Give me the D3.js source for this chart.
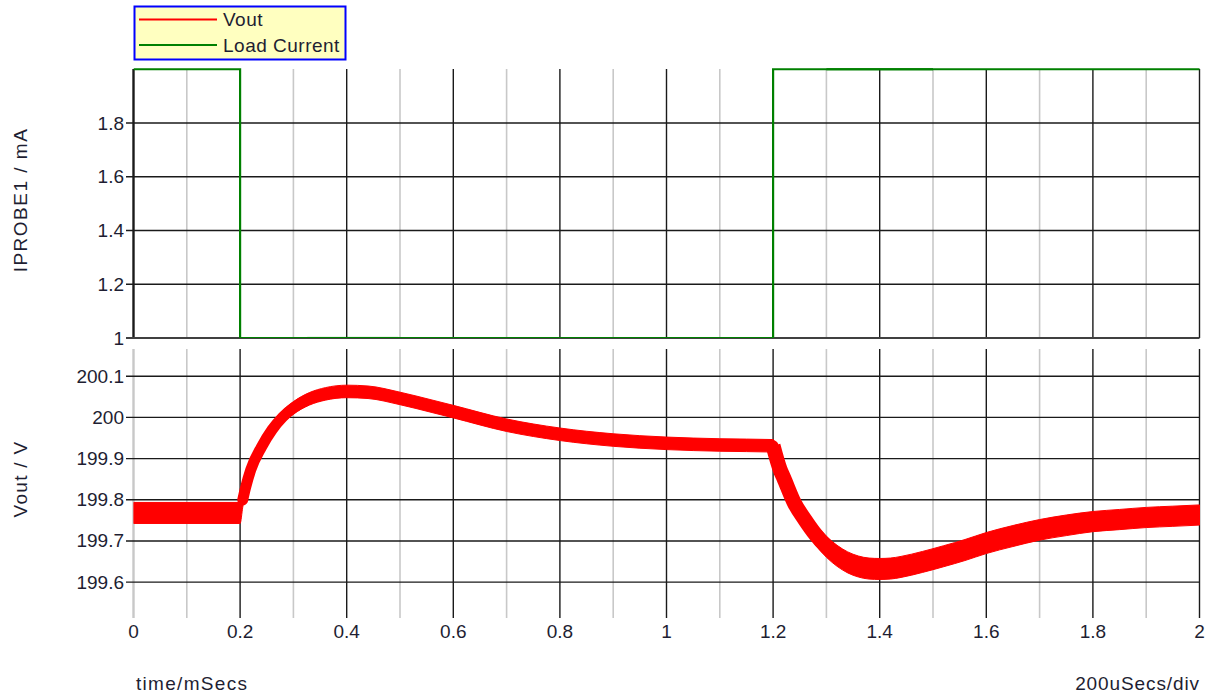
<!DOCTYPE html>
<html><head><meta charset="utf-8">
<script src="https://cdn.jsdelivr.net/npm/d3@7/dist/d3.min.js"></script>
<style>
body{margin:0;background:#fff}
svg{display:block}
text{font-family:"Liberation Sans",Arial,sans-serif;font-size:19px;fill:#1e1e32}
</style>
</head><body>
<svg id="chart" width="1210" height="700"></svg>
<script>
// ---- data ----
const xTickValues = [0, 0.2, 0.4, 0.6, 0.8, 1, 1.2, 1.4, 1.6, 1.8, 2];
const xMinorValues = [0.1, 0.3, 0.5, 0.7, 0.9, 1.1, 1.3, 1.5, 1.7, 1.9];
const currentTicks = [1, 1.2, 1.4, 1.6, 1.8];
const voltTicks = [199.6, 199.7, 199.8, 199.9, 200, 200.1];

// Load current (mA) step waveform
const loadTime = [0, 0.2, 0.2, 1.2, 1.2, 2];
const loadCurrent = [2, 2, 1, 1, 2, 2];
// small ripple segments visible on the current trace
const loadRippleStart = [0.326, 1.3];
const loadRippleEnd = [0.497, 1.5];
const loadRippleLevel = [1, 2];
const loadRippleAmp = [0.004, 0.004];

// Vout (V): centre of ripple band and half peak-to-peak ripple
const voutTime = [0, 0.2, 0.205, 0.21, 0.22, 0.24, 0.26, 0.28, 0.30, 0.33, 0.36, 0.40, 0.44, 0.50, 0.56, 0.60, 0.70, 0.80, 0.90, 1.00, 1.10, 1.20,
  1.213, 1.22, 1.24, 1.26, 1.28, 1.30, 1.32, 1.34, 1.36, 1.38, 1.40, 1.42, 1.44, 1.48, 1.52, 1.56, 1.60, 1.65, 1.70, 1.75, 1.80, 1.85, 1.90, 1.95, 2.0];
const voutCenter = [199.768, 199.768, 199.800, 199.828, 199.873, 199.928, 199.970, 200.001, 200.023, 200.045, 200.057, 200.063, 200.061, 200.046, 200.027, 200.014, 199.981, 199.959, 199.945, 199.937, 199.933, 199.931,
  199.874, 199.853, 199.792, 199.751, 199.715, 199.686, 199.664, 199.648, 199.638, 199.633, 199.632, 199.633, 199.637, 199.649, 199.663, 199.678, 199.695, 199.712, 199.727, 199.738, 199.747, 199.752, 199.757, 199.760, 199.763];
const voutRipple = [0.0255, 0.0255, 0.018, 0.0152, 0.0152, 0.0152, 0.0152, 0.0152, 0.0152, 0.0152, 0.0152, 0.0152, 0.0152, 0.0152, 0.0152, 0.0152, 0.0152, 0.0152, 0.0152, 0.0152, 0.0152, 0.0152,
  0.020, 0.023, 0.0255, 0.0255, 0.0255, 0.0255, 0.0255, 0.0255, 0.0255, 0.0255, 0.0255, 0.0255, 0.0255, 0.0255, 0.0255, 0.0255, 0.0255, 0.0255, 0.025, 0.025, 0.0245, 0.0245, 0.0245, 0.0245, 0.0245];

const legendNames = ["Vout", "Load Current"];
const legendColors = ["#ff0000", "#008000"];

// ---- layout ----
const svg = d3.select("#chart");
const x = d3.scaleLinear().domain([0, 2]).range([133.5, 1199.5]);
const yI = d3.scaleLinear().domain([1, 2]).range([338, 69.25]);
const yV = d3.scaleLinear().domain([199.513, 200.166]).range([618, 349]);
const topPanel = {y0: 69, y1: 338};
const botPanel = {y0: 349, y1: 618};
const fmt = d => String(+d.toFixed(1));

function panelGrid(panel, yScale, ticks, isTop) {
  const g = svg.append("g");
  g.selectAll("line.minor").data(xMinorValues).enter().append("line")
    .attr("x1", d => x(d)).attr("x2", d => x(d))
    .attr("y1", panel.y0).attr("y2", panel.y1)
    .attr("stroke", "#c8c8c8").attr("stroke-width", 1.6);
  g.selectAll("line.major").data(xTickValues).enter().append("line")
    .attr("x1", d => x(d)).attr("x2", d => x(d))
    .attr("y1", panel.y0).attr("y2", panel.y1)
    .attr("stroke", d => (d === 0 && !isTop) ? "#c8c8c8" : "#1a1a1a")
    .attr("stroke-width", d => d === 0 ? 2.4 : 1.4);
  g.selectAll("line.h").data(ticks).enter().append("line")
    .attr("x1", 126).attr("x2", x(2))
    .attr("y1", d => yScale(d)).attr("y2", d => yScale(d))
    .attr("stroke", d => (isTop && d === 1) ? "#404040" : "#1a1a1a")
    .attr("stroke-width", d => (isTop && d === 1) ? 2.2 : 1.4);
  g.selectAll("text.yt").data(ticks).enter().append("text")
    .attr("x", 124).attr("y", d => yScale(d))
    .attr("text-anchor", "end").attr("dominant-baseline", "central")
    .text(fmt);
}

panelGrid(topPanel, yI, currentTicks, true);
panelGrid(botPanel, yV, voltTicks, false);

// x tick labels
svg.append("g").selectAll("text").data(xTickValues).enter().append("text")
  .attr("x", d => x(d)).attr("y", 631)
  .attr("text-anchor", "middle").attr("dominant-baseline", "central")
  .text(fmt);

// axis titles
svg.append("text").attr("x", 136).attr("y", 690).attr("letter-spacing", 1.3).text("time/mSecs");
svg.append("text").attr("x", 1200).attr("y", 690).attr("text-anchor", "end").attr("letter-spacing", 0.9).text("200uSecs/div");
svg.append("text").attr("transform", "translate(27,200) rotate(-90)").attr("text-anchor", "middle").attr("letter-spacing", 1.5).text("IPROBE1 / mA");
svg.append("text").attr("transform", "translate(27,479) rotate(-90)").attr("text-anchor", "middle").attr("letter-spacing", 1.3).text("Vout / V");

// clip paths
const defs = svg.append("defs");
defs.append("clipPath").attr("id", "clipTop").append("rect")
  .attr("x", x(0)).attr("y", topPanel.y0 - 1.5).attr("width", x(2) - x(0) + 2).attr("height", topPanel.y1 - topPanel.y0 + 1.5);
defs.append("clipPath").attr("id", "clipBot").append("rect")
  .attr("x", x(0)).attr("y", botPanel.y0).attr("width", x(2) - x(0) + 2).attr("height", botPanel.y1 - botPanel.y0);

// load current trace
const loadData = loadTime.map((t, i) => [t, loadCurrent[i]]);
const gTop = svg.append("g").attr("clip-path", "url(#clipTop)");
gTop.selectAll("rect.rip").data(loadRippleStart).enter().append("rect")
  .attr("x", d => x(d)).attr("width", (d, i) => x(loadRippleEnd[i]) - x(d))
  .attr("y", (d, i) => yI(loadRippleLevel[i] + loadRippleAmp[i]))
  .attr("height", (d, i) => yI(loadRippleLevel[i] - loadRippleAmp[i]) - yI(loadRippleLevel[i] + loadRippleAmp[i]))
  .attr("fill", "#008000");
gTop.append("path").datum(loadData)
  .attr("d", d3.line().x(d => x(d[0])).y(d => yI(d[1])))
  .attr("fill", "none").attr("stroke", "#008000").attr("stroke-width", 2.2);

// Vout ripple band
const voutData = voutTime.map((t, i) => ({t, c: voutCenter[i], r: voutRipple[i]}));
const gBot = svg.append("g").attr("clip-path", "url(#clipBot)");
gBot.append("path").datum(voutData)
  .attr("d", d3.area().x(d => x(d.t)).y0(d => yV(d.c - d.r)).y1(d => yV(d.c + d.r)).curve(d3.curveMonotoneX))
  .attr("fill", "#ff0000").attr("stroke", "#ff0000").attr("stroke-width", 1);
// the ripple also spreads sideways on steep edges: trace the centre with a thick stroke
const centreLine = d3.line().x(d => x(d.t)).y(d => yV(d.c)).curve(d3.curveMonotoneX);
gBot.append("path").datum(voutData.filter(d => d.t >= 0.2 && d.t <= 1.2).slice(1))
  .attr("d", centreLine).attr("fill", "none").attr("stroke", "#ff0000")
  .attr("stroke-width", 11).attr("stroke-linejoin", "round").attr("stroke-linecap", "round");
gBot.append("path").datum(voutData.filter(d => d.t >= 1.2))
  .attr("d", centreLine).attr("fill", "none").attr("stroke", "#ff0000")
  .attr("stroke-width", 15).attr("stroke-linejoin", "round");

// legend
const lg = svg.append("g");
lg.append("rect").attr("x", 134.5).attr("y", 6.5).attr("width", 211).attr("height", 53)
  .attr("fill", "#ffffc0").attr("stroke", "#0000ff").attr("stroke-width", 2);
const items = lg.selectAll("g.item").data(legendNames).enter().append("g")
  .attr("transform", (d, i) => `translate(0,${19.5 + i * 25.5})`);
items.append("line").attr("x1", 139).attr("x2", 217).attr("y1", 0).attr("y2", 0)
  .attr("stroke", (d, i) => legendColors[i]).attr("stroke-width", 2.2);
items.append("text").attr("x", 223).attr("y", 0).attr("letter-spacing", 0.5).attr("dominant-baseline", "central").text(d => d);
</script>
</body></html>
